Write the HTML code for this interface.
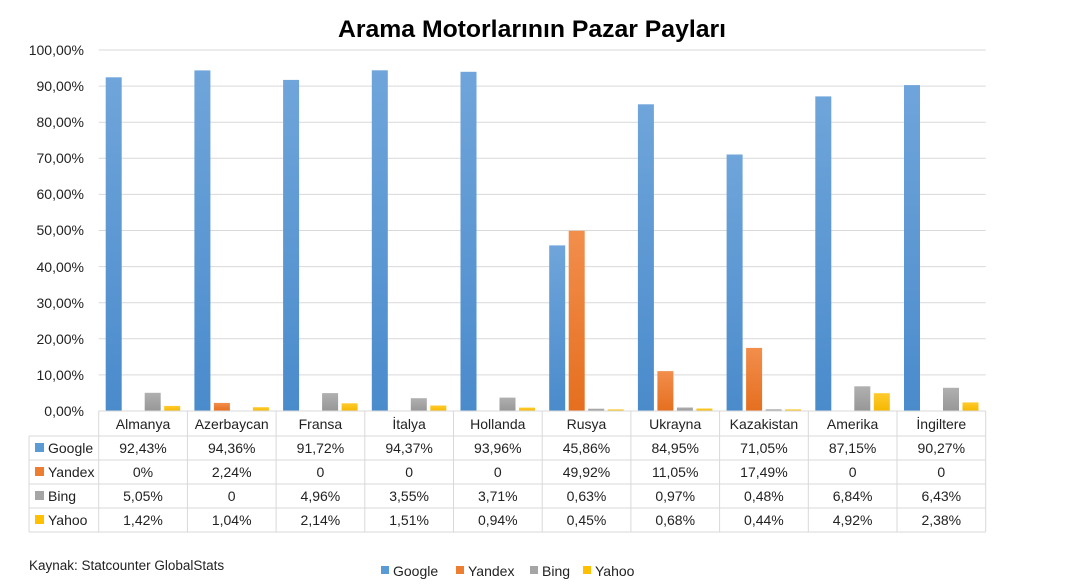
<!DOCTYPE html><html><head><meta charset="utf-8"><style>body{margin:0;background:#fff}svg{display:block;font-family:"Liberation Sans",sans-serif}</style></head><body>
<svg width="1066" height="586" viewBox="0 0 1066 586">
<defs>
<linearGradient id="gb" x1="0" y1="0" x2="0" y2="1"><stop offset="0" stop-color="#6fa5da"/><stop offset="1" stop-color="#4a8bcc"/></linearGradient>
<linearGradient id="go" x1="0" y1="0" x2="0" y2="1"><stop offset="0" stop-color="#f28e4c"/><stop offset="1" stop-color="#e56f1f"/></linearGradient>
<linearGradient id="gg" x1="0" y1="0" x2="0" y2="1"><stop offset="0" stop-color="#b0b0b0"/><stop offset="1" stop-color="#979797"/></linearGradient>
<linearGradient id="gy" x1="0" y1="0" x2="0" y2="1"><stop offset="0" stop-color="#ffcb2e"/><stop offset="1" stop-color="#f5b800"/></linearGradient>
</defs>
<rect width="1066" height="586" fill="#fff"/>
<text x="532" y="37" text-anchor="middle" font-size="24" font-weight="bold" textLength="388" lengthAdjust="spacingAndGlyphs">Arama Motorlarının Pazar Payları</text>
<g stroke="#d9d9d9" stroke-width="1">
<line x1="98.7" x2="985.7" y1="50" y2="50"/><line x1="98.7" x2="985.7" y1="86.1" y2="86.1"/><line x1="98.7" x2="985.7" y1="122.2" y2="122.2"/><line x1="98.7" x2="985.7" y1="158.3" y2="158.3"/><line x1="98.7" x2="985.7" y1="194.4" y2="194.4"/><line x1="98.7" x2="985.7" y1="230.5" y2="230.5"/><line x1="98.7" x2="985.7" y1="266.6" y2="266.6"/><line x1="98.7" x2="985.7" y1="302.7" y2="302.7"/><line x1="98.7" x2="985.7" y1="338.8" y2="338.8"/><line x1="98.7" x2="985.7" y1="374.9" y2="374.9"/>
</g>
<g font-size="14" text-anchor="end" fill="#222">
<text x="84" y="55">100,00%</text><text x="84" y="91">90,00%</text><text x="84" y="127">80,00%</text><text x="84" y="163">70,00%</text><text x="84" y="199">60,00%</text><text x="84" y="235">50,00%</text><text x="84" y="272">40,00%</text><text x="84" y="308">30,00%</text><text x="84" y="344">20,00%</text><text x="84" y="380">10,00%</text><text x="84" y="416">0,00%</text>
</g>
<g>
<g transform="translate(98.7,0)"><rect x="7" y="77.3" width="16" height="333.7" fill="url(#gb)"/><rect x="46" y="392.8" width="16" height="18.2" fill="url(#gg)"/><rect x="65.5" y="405.9" width="16" height="5.1" fill="url(#gy)"/></g>
<g transform="translate(187.4,0)"><rect x="7" y="70.4" width="16" height="340.6" fill="url(#gb)"/><rect x="26.5" y="402.9" width="16" height="8.1" fill="url(#go)"/><rect x="65.5" y="407.2" width="16" height="3.8" fill="url(#gy)"/></g>
<g transform="translate(276.1,0)"><rect x="7" y="79.9" width="16" height="331.1" fill="url(#gb)"/><rect x="46" y="393.1" width="16" height="17.9" fill="url(#gg)"/><rect x="65.5" y="403.3" width="16" height="7.7" fill="url(#gy)"/></g>
<g transform="translate(364.8,0)"><rect x="7" y="70.3" width="16" height="340.7" fill="url(#gb)"/><rect x="46" y="398.2" width="16" height="12.8" fill="url(#gg)"/><rect x="65.5" y="405.5" width="16" height="5.5" fill="url(#gy)"/></g>
<g transform="translate(453.5,0)"><rect x="7" y="71.8" width="16" height="339.2" fill="url(#gb)"/><rect x="46" y="397.6" width="16" height="13.4" fill="url(#gg)"/><rect x="65.5" y="407.6" width="16" height="3.4" fill="url(#gy)"/></g>
<g transform="translate(542.2,0)"><rect x="7" y="245.4" width="16" height="165.6" fill="url(#gb)"/><rect x="26.5" y="230.8" width="16" height="180.2" fill="url(#go)"/><rect x="46" y="408.7" width="16" height="2.3" fill="url(#gg)"/><rect x="65.5" y="409.4" width="16" height="1.6" fill="url(#gy)"/></g>
<g transform="translate(630.9,0)"><rect x="7" y="104.3" width="16" height="306.7" fill="url(#gb)"/><rect x="26.5" y="371.1" width="16" height="39.9" fill="url(#go)"/><rect x="46" y="407.5" width="16" height="3.5" fill="url(#gg)"/><rect x="65.5" y="408.5" width="16" height="2.5" fill="url(#gy)"/></g>
<g transform="translate(719.6,0)"><rect x="7" y="154.5" width="16" height="256.5" fill="url(#gb)"/><rect x="26.5" y="347.9" width="16" height="63.1" fill="url(#go)"/><rect x="46" y="409.3" width="16" height="1.7" fill="url(#gg)"/><rect x="65.5" y="409.4" width="16" height="1.6" fill="url(#gy)"/></g>
<g transform="translate(808.3,0)"><rect x="7" y="96.4" width="16" height="314.6" fill="url(#gb)"/><rect x="46" y="386.3" width="16" height="24.7" fill="url(#gg)"/><rect x="65.5" y="393.2" width="16" height="17.8" fill="url(#gy)"/></g>
<g transform="translate(897,0)"><rect x="7" y="85.1" width="16" height="325.9" fill="url(#gb)"/><rect x="46" y="387.8" width="16" height="23.2" fill="url(#gg)"/><rect x="65.5" y="402.4" width="16" height="8.6" fill="url(#gy)"/></g>
</g>
<g stroke="#d9d9d9" stroke-width="1">
<line x1="98.7" x2="985.7" y1="411" y2="411"/>
<line x1="29" x2="985.7" y1="436" y2="436"/><line x1="29" x2="985.7" y1="460" y2="460"/><line x1="29" x2="985.7" y1="484" y2="484"/><line x1="29" x2="985.7" y1="508" y2="508"/><line x1="29" x2="985.7" y1="532" y2="532"/>
<line x1="29" x2="29" y1="436" y2="532"/>
<line x1="98.7" x2="98.7" y1="411" y2="532"/><line x1="187.4" x2="187.4" y1="411" y2="532"/><line x1="276.1" x2="276.1" y1="411" y2="532"/><line x1="364.8" x2="364.8" y1="411" y2="532"/><line x1="453.5" x2="453.5" y1="411" y2="532"/><line x1="542.2" x2="542.2" y1="411" y2="532"/><line x1="630.9" x2="630.9" y1="411" y2="532"/><line x1="719.6" x2="719.6" y1="411" y2="532"/><line x1="808.3" x2="808.3" y1="411" y2="532"/><line x1="897" x2="897" y1="411" y2="532"/><line x1="985.7" x2="985.7" y1="411" y2="532"/>
</g>
<g font-size="14" fill="#222" text-anchor="middle">
<text x="143" y="429">Almanya</text><text x="231.7" y="429">Azerbaycan</text><text x="320.4" y="429">Fransa</text><text x="409.1" y="429">İtalya</text><text x="497.8" y="429">Hollanda</text><text x="586.5" y="429">Rusya</text><text x="675.2" y="429">Ukrayna</text><text x="763.9" y="429">Kazakistan</text><text x="852.6" y="429">Amerika</text><text x="941.3" y="429">İngiltere</text>
<text x="143" y="453">92,43%</text><text x="231.7" y="453">94,36%</text><text x="320.4" y="453">91,72%</text><text x="409.1" y="453">94,37%</text><text x="497.8" y="453">93,96%</text><text x="586.5" y="453">45,86%</text><text x="675.2" y="453">84,95%</text><text x="763.9" y="453">71,05%</text><text x="852.6" y="453">87,15%</text><text x="941.3" y="453">90,27%</text>
<text x="143" y="477">0%</text><text x="231.7" y="477">2,24%</text><text x="320.4" y="477">0</text><text x="409.1" y="477">0</text><text x="497.8" y="477">0</text><text x="586.5" y="477">49,92%</text><text x="675.2" y="477">11,05%</text><text x="763.9" y="477">17,49%</text><text x="852.6" y="477">0</text><text x="941.3" y="477">0</text>
<text x="143" y="501">5,05%</text><text x="231.7" y="501">0</text><text x="320.4" y="501">4,96%</text><text x="409.1" y="501">3,55%</text><text x="497.8" y="501">3,71%</text><text x="586.5" y="501">0,63%</text><text x="675.2" y="501">0,97%</text><text x="763.9" y="501">0,48%</text><text x="852.6" y="501">6,84%</text><text x="941.3" y="501">6,43%</text>
<text x="143" y="525">1,42%</text><text x="231.7" y="525">1,04%</text><text x="320.4" y="525">2,14%</text><text x="409.1" y="525">1,51%</text><text x="497.8" y="525">0,94%</text><text x="586.5" y="525">0,45%</text><text x="675.2" y="525">0,68%</text><text x="763.9" y="525">0,44%</text><text x="852.6" y="525">4,92%</text><text x="941.3" y="525">2,38%</text>
</g>
<g font-size="14" fill="#222">
<rect x="35" y="443" width="9" height="9" fill="#5b9bd5"/><text x="48" y="453">Google</text>
<rect x="35" y="467" width="9" height="9" fill="#ed7d31"/><text x="48" y="477">Yandex</text>
<rect x="35" y="491" width="9" height="9" fill="#a5a5a5"/><text x="48" y="501">Bing</text>
<rect x="35" y="515" width="9" height="9" fill="#ffc000"/><text x="48" y="525">Yahoo</text>
<text x="29" y="570" font-size="13.5">Kaynak: Statcounter  GlobalStats</text>
<rect x="381" y="566" width="8" height="8" fill="#5b9bd5"/><text x="393" y="576">Google</text>
<rect x="456" y="566" width="8" height="8" fill="#ed7d31"/><text x="468" y="576">Yandex</text>
<rect x="530" y="566" width="8" height="8" fill="#a5a5a5"/><text x="542" y="576">Bing</text>
<rect x="583" y="566" width="8" height="8" fill="#ffc000"/><text x="595" y="576">Yahoo</text>
</g>
</svg>
</body></html>
